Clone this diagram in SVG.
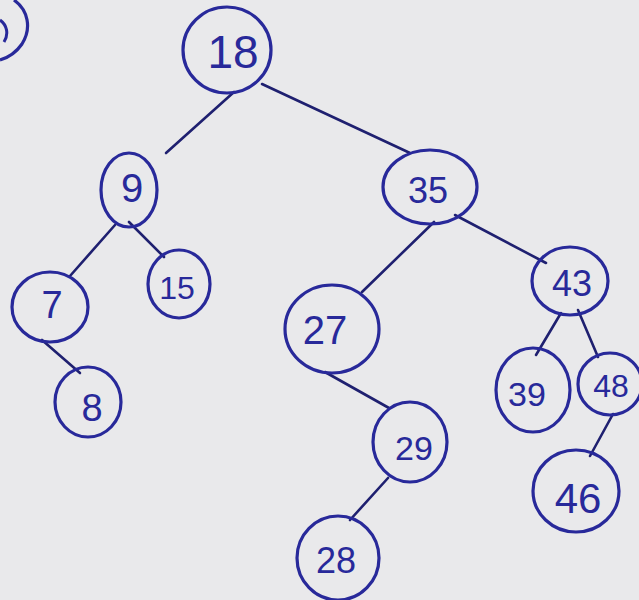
<svg xmlns="http://www.w3.org/2000/svg" width="639" height="600" viewBox="0 0 639 600">
<style>
.n ellipse{fill:none;stroke:#28299a;stroke-width:3.2}
.n text{fill:#28299a;font-family:"Liberation Sans","DejaVu Sans",sans-serif;text-anchor:middle;dominant-baseline:central}
#edges line{stroke:#1f2070;stroke-width:2.6;stroke-linecap:round}
</style>
<rect width="639" height="600" fill="#e9e9eb"/>
<path d="M14 0 C28 10,32 28,22 44 C15 54,7 58,0 60" fill="none" stroke="#28299a" stroke-width="3.2"/>
<path d="M0 20 C7 25,9 34,4 42" fill="none" stroke="#28299a" stroke-width="3"/>
<g id="edges">
<line x1="234" y1="92" x2="166" y2="153"/>
<line x1="262" y1="84" x2="410" y2="153"/>
<line x1="115" y1="225" x2="70" y2="276"/>
<line x1="129" y1="222" x2="164" y2="257"/>
<line x1="42" y1="340" x2="80" y2="373"/>
<line x1="434" y1="222" x2="362" y2="292"/>
<line x1="455" y1="215" x2="546" y2="263"/>
<line x1="325" y1="372" x2="389" y2="408"/>
<line x1="388" y1="478" x2="350" y2="520"/>
<line x1="561" y1="313" x2="536" y2="355"/>
<line x1="578" y1="310" x2="598" y2="357"/>
<line x1="613" y1="414" x2="590" y2="456"/>
</g>
<g id="n18" class="n"><ellipse cx="227" cy="50" rx="44" ry="43"/><text x="233" y="52" font-size="46">18</text></g>
<g id="n9" class="n"><ellipse cx="129" cy="190" rx="28" ry="37"/><text x="132" y="188" font-size="40">9</text></g>
<g id="n7" class="n"><ellipse cx="50" cy="307" rx="38" ry="35"/><text x="52" y="305" font-size="38">7</text></g>
<g id="n15" class="n"><ellipse cx="179" cy="284" rx="31" ry="34"/><text x="177" y="288" font-size="32">15</text></g>
<g id="n8" class="n"><ellipse cx="88" cy="402" rx="33" ry="35"/><text x="92" y="408" font-size="38">8</text></g>
<g id="n35" class="n"><ellipse cx="430" cy="187" rx="47" ry="37"/><text x="428" y="190" font-size="36">35</text></g>
<g id="n27" class="n"><ellipse cx="332" cy="329" rx="47" ry="44"/><text x="325" y="330" font-size="40">27</text></g>
<g id="n43" class="n"><ellipse cx="570" cy="281" rx="38" ry="34"/><text x="572" y="283" font-size="36">43</text></g>
<g id="n29" class="n"><ellipse cx="410" cy="442" rx="37" ry="40"/><text x="414" y="448" font-size="34">29</text></g>
<g id="n39" class="n"><ellipse cx="533" cy="390" rx="37" ry="42"/><text x="527" y="394" font-size="34">39</text></g>
<g id="n48" class="n"><ellipse cx="610" cy="384" rx="32" ry="31"/><text x="611" y="386" font-size="32">48</text></g>
<g id="n46" class="n"><ellipse cx="576" cy="491" rx="43" ry="41"/><text x="578" y="498" font-size="42">46</text></g>
<g id="n28" class="n"><ellipse cx="338" cy="558" rx="41" ry="42"/><text x="336" y="560" font-size="36">28</text></g>
</svg>
